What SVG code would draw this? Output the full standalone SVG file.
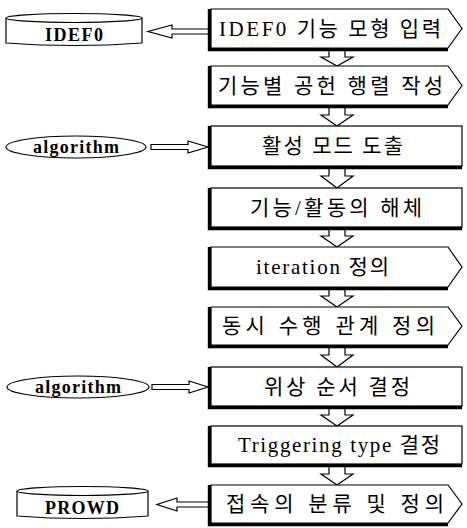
<svg xmlns="http://www.w3.org/2000/svg" width="467" height="528" viewBox="0 0 467 528">
<style>
.box{fill:#fff;stroke:#000;stroke-width:1.2}
.sh{fill:none;stroke:#000;stroke-width:3.2;stroke-linejoin:miter}
.arr{fill:#fff;stroke:#000;stroke-width:1.2;stroke-linejoin:miter}
.t{font-family:"Liberation Serif","Noto Sans CJK KR",serif;font-size:21px;fill:#000}
.s{font-family:"Liberation Serif","Noto Sans CJK KR",serif;font-size:18px;font-weight:bold;fill:#000;text-anchor:middle}
</style>
<rect width="467" height="528" fill="#fff"/>
<g id="connectors">
<polygon class="arr" points="209,29 172,29 172,25 148,31.5 172,38 172,34 209,34"/>
<polygon class="arr" points="151,144.5 188,144.5 188,141 208,147 188,153 188,149.5 151,149.5"/>
<polygon class="arr" points="152,384.5 189,384.5 189,381 208,387 189,393 189,389.5 152,389.5"/>
<polygon class="arr" points="209,502 177,502 177,498 157,504.5 177,511 177,507 209,507"/>
<polygon class="arr" points="329,49.5 345,49.5 345,57 353,57 337,66 321,57 329,57"/>
<polygon class="arr" points="329,106.5 345,106.5 345,115 353,115 337,126 321,115 329,115"/>
<polygon class="arr" points="329,167.5 345,167.5 345,176 353,176 337,188 321,176 329,176"/>
<polygon class="arr" points="329,228.5 345,228.5 345,236 353,236 337,247 321,236 329,236"/>
<polygon class="arr" points="329,288.5 345,288.5 345,296 353,296 337,307 321,296 329,296"/>
<polygon class="arr" points="329,346.5 345,346.5 345,355 353,355 337,367 321,355 329,355"/>
<polygon class="arr" points="329,407.5 345,407.5 345,415 353,415 337,426 321,415 329,415"/>
<polygon class="arr" points="329,465.5 345,465.5 345,474 353,474 337,485 321,474 329,474"/>
</g>
<g id="idef0-db">
<path class="box" d="M6,18 V43 Q74,48 142,43 V18"/>
<ellipse class="box" cx="74" cy="18" rx="68" ry="4.5"/>
<text class="s" x="74" y="41" textLength="58" lengthAdjust="spacing">IDEF0</text>
</g>
<g id="algorithm1">
<ellipse class="box" cx="76" cy="147" rx="70" ry="11"/>
<text class="s" x="76" y="152.5" font-size="20" textLength="86" lengthAdjust="spacing">algorithm</text>
</g>
<g id="algorithm2">
<ellipse class="box" cx="78" cy="387" rx="71" ry="11"/>
<text class="s" x="78" y="392.5" font-size="20" textLength="86" lengthAdjust="spacing">algorithm</text>
</g>
<g id="prowd-db">
<path class="box" d="M17,491 V516 Q82,521 148,516 V491"/>
<ellipse class="box" cx="82.5" cy="491" rx="65.5" ry="4.5"/>
<text class="s" x="82" y="514" textLength="74" lengthAdjust="spacing">PROWD</text>
</g>
<g id="s1">
<polygon class="box" points="211,9 448,9 462,28.5 448,48 211,48"/>
<polyline class="sh" points="209.4,9 209.4,49.6 448,49.6"/>
<text class="t" x="219" y="35.5" textLength="222" lengthAdjust="spacing">IDEF0 기능 모형 입력</text>
</g>
<g id="s2">
<polygon class="box" points="211,66 448,66 462,85.5 448,105 211,105"/>
<polyline class="sh" points="209.4,66 209.4,106.6 448,106.6"/>
<text class="t" x="218" y="92.5" textLength="225" lengthAdjust="spacing">기능별 공헌 행렬 작성</text>
</g>
<g id="s3">
<rect class="box" x="211" y="126" width="251" height="40"/>
<polyline class="sh" points="209.4,126 209.4,167.6 462,167.6"/>
<text class="t" x="262" y="153" textLength="141" lengthAdjust="spacing">활성 모드 도출</text>
</g>
<g id="s4">
<rect class="box" x="211" y="188" width="251" height="39"/>
<polyline class="sh" points="209.4,188 209.4,228.6 462,228.6"/>
<text class="t" x="250" y="214.5" textLength="172" lengthAdjust="spacing">기능/활동의 해체</text>
</g>
<g id="s5">
<polygon class="box" points="211,247 448,247 462,267 448,287 211,287"/>
<polyline class="sh" points="209.4,247 209.4,288.6 448,288.6"/>
<text class="t" x="256" y="274" textLength="133" lengthAdjust="spacing">iteration 정의</text>
</g>
<g id="s6">
<polygon class="box" points="211,307 448,307 462,326 448,345 211,345"/>
<polyline class="sh" points="209.4,307 209.4,346.6 448,346.6"/>
<text class="t" x="222" y="333" textLength="213" lengthAdjust="spacing">동시 수행 관계 정의</text>
</g>
<g id="s7">
<rect class="box" x="211" y="367" width="251" height="39"/>
<polyline class="sh" points="209.4,367 209.4,407.6 462,407.6"/>
<text class="t" x="264" y="393.5" textLength="146" lengthAdjust="spacing">위상 순서 결정</text>
</g>
<g id="s8">
<rect class="box" x="211" y="426" width="251" height="38"/>
<polyline class="sh" points="209.4,426 209.4,465.6 462,465.6"/>
<text class="t" x="238" y="452" textLength="202" lengthAdjust="spacing">Triggering type 결정</text>
</g>
<g id="s9">
<polygon class="box" points="211,485 448,485 462,504 448,523 211,523"/>
<polyline class="sh" points="209.4,485 209.4,524.6 448,524.6"/>
<text class="t" x="226" y="511" textLength="218" lengthAdjust="spacing">접속의 분류 및 정의</text>
</g>
</svg>
